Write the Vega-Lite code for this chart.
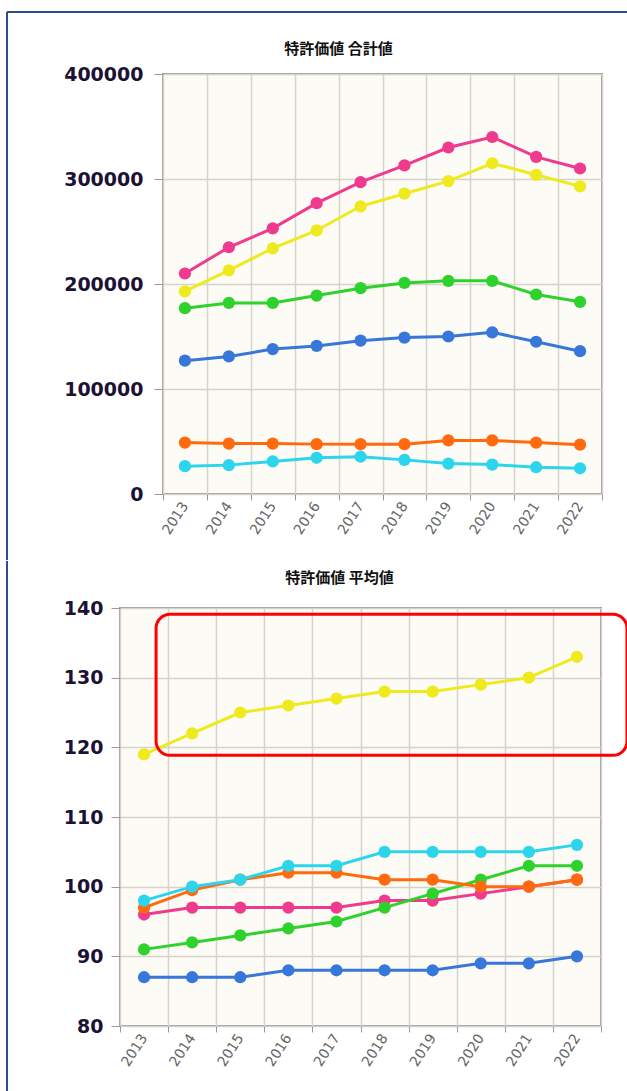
{
  "$schema": "https://vega.github.io/schema/vega-lite/v6.json",
  "padding": {"left": 6, "top": 11, "right": 0, "bottom": 0},
  "background": "white",
  "spacing": -2,
  "config": {
    "view": {"fill": "#fdfbf5", "stroke": "#9c9c9c", "strokeWidth": 2},
    "title": {"font": "Noto Sans CJK JP", "fontSize": 15, "fontWeight": "bold", "color": "#111111", "anchor": "middle"},
    "axis": {"labelFont": "DejaVu Sans", "gridColor": "#d6d3cc", "gridWidth": 1.5, "tickColor": "#999999", "domain": false, "title": null},
    "axisY": {"labelFontSize": 19, "labelFontWeight": "bold", "labelColor": "#1c1236", "tickSize": 9, "labelPadding": 11},
    "axisX": {"labelFontSize": 14, "labelColor": "#666666", "labelAngle": -57, "tickSize": 6, "labelPadding": 3, "grid": true, "tickBand": "extent"}
  },
  "datasets": {
    "total": [
      {"year": "2013", "s": "s1", "v": 210000}, {"year": "2014", "s": "s1", "v": 235000}, {"year": "2015", "s": "s1", "v": 253000}, {"year": "2016", "s": "s1", "v": 277000}, {"year": "2017", "s": "s1", "v": 297000}, {"year": "2018", "s": "s1", "v": 313000}, {"year": "2019", "s": "s1", "v": 330000}, {"year": "2020", "s": "s1", "v": 340000}, {"year": "2021", "s": "s1", "v": 321000}, {"year": "2022", "s": "s1", "v": 310000},
      {"year": "2013", "s": "s2", "v": 193000}, {"year": "2014", "s": "s2", "v": 213000}, {"year": "2015", "s": "s2", "v": 234000}, {"year": "2016", "s": "s2", "v": 251000}, {"year": "2017", "s": "s2", "v": 274000}, {"year": "2018", "s": "s2", "v": 286000}, {"year": "2019", "s": "s2", "v": 298000}, {"year": "2020", "s": "s2", "v": 315000}, {"year": "2021", "s": "s2", "v": 304000}, {"year": "2022", "s": "s2", "v": 293000},
      {"year": "2013", "s": "s3", "v": 177000}, {"year": "2014", "s": "s3", "v": 182000}, {"year": "2015", "s": "s3", "v": 182000}, {"year": "2016", "s": "s3", "v": 189000}, {"year": "2017", "s": "s3", "v": 196000}, {"year": "2018", "s": "s3", "v": 201000}, {"year": "2019", "s": "s3", "v": 203000}, {"year": "2020", "s": "s3", "v": 203000}, {"year": "2021", "s": "s3", "v": 190000}, {"year": "2022", "s": "s3", "v": 183000},
      {"year": "2013", "s": "s4", "v": 127000}, {"year": "2014", "s": "s4", "v": 131000}, {"year": "2015", "s": "s4", "v": 138000}, {"year": "2016", "s": "s4", "v": 141000}, {"year": "2017", "s": "s4", "v": 146000}, {"year": "2018", "s": "s4", "v": 149000}, {"year": "2019", "s": "s4", "v": 150000}, {"year": "2020", "s": "s4", "v": 154000}, {"year": "2021", "s": "s4", "v": 145000}, {"year": "2022", "s": "s4", "v": 136000},
      {"year": "2013", "s": "s5", "v": 49000}, {"year": "2014", "s": "s5", "v": 48000}, {"year": "2015", "s": "s5", "v": 48000}, {"year": "2016", "s": "s5", "v": 47500}, {"year": "2017", "s": "s5", "v": 47500}, {"year": "2018", "s": "s5", "v": 47500}, {"year": "2019", "s": "s5", "v": 51000}, {"year": "2020", "s": "s5", "v": 51000}, {"year": "2021", "s": "s5", "v": 49000}, {"year": "2022", "s": "s5", "v": 47000},
      {"year": "2013", "s": "s6", "v": 26500}, {"year": "2014", "s": "s6", "v": 27500}, {"year": "2015", "s": "s6", "v": 31000}, {"year": "2016", "s": "s6", "v": 34500}, {"year": "2017", "s": "s6", "v": 35500}, {"year": "2018", "s": "s6", "v": 32500}, {"year": "2019", "s": "s6", "v": 29000}, {"year": "2020", "s": "s6", "v": 28000}, {"year": "2021", "s": "s6", "v": 25500}, {"year": "2022", "s": "s6", "v": 24500}
    ],
    "avg": [
      {"year": "2013", "s": "s1", "v": 96}, {"year": "2014", "s": "s1", "v": 97}, {"year": "2015", "s": "s1", "v": 97}, {"year": "2016", "s": "s1", "v": 97}, {"year": "2017", "s": "s1", "v": 97}, {"year": "2018", "s": "s1", "v": 98}, {"year": "2019", "s": "s1", "v": 98}, {"year": "2020", "s": "s1", "v": 99}, {"year": "2021", "s": "s1", "v": 100}, {"year": "2022", "s": "s1", "v": 101},
      {"year": "2013", "s": "s2", "v": 119}, {"year": "2014", "s": "s2", "v": 122}, {"year": "2015", "s": "s2", "v": 125}, {"year": "2016", "s": "s2", "v": 126}, {"year": "2017", "s": "s2", "v": 127}, {"year": "2018", "s": "s2", "v": 128}, {"year": "2019", "s": "s2", "v": 128}, {"year": "2020", "s": "s2", "v": 129}, {"year": "2021", "s": "s2", "v": 130}, {"year": "2022", "s": "s2", "v": 133},
      {"year": "2013", "s": "s3", "v": 91}, {"year": "2014", "s": "s3", "v": 92}, {"year": "2015", "s": "s3", "v": 93}, {"year": "2016", "s": "s3", "v": 94}, {"year": "2017", "s": "s3", "v": 95}, {"year": "2018", "s": "s3", "v": 97}, {"year": "2019", "s": "s3", "v": 99}, {"year": "2020", "s": "s3", "v": 101}, {"year": "2021", "s": "s3", "v": 103}, {"year": "2022", "s": "s3", "v": 103},
      {"year": "2013", "s": "s4", "v": 87}, {"year": "2014", "s": "s4", "v": 87}, {"year": "2015", "s": "s4", "v": 87}, {"year": "2016", "s": "s4", "v": 88}, {"year": "2017", "s": "s4", "v": 88}, {"year": "2018", "s": "s4", "v": 88}, {"year": "2019", "s": "s4", "v": 88}, {"year": "2020", "s": "s4", "v": 89}, {"year": "2021", "s": "s4", "v": 89}, {"year": "2022", "s": "s4", "v": 90},
      {"year": "2013", "s": "s5", "v": 97}, {"year": "2014", "s": "s5", "v": 99.5}, {"year": "2015", "s": "s5", "v": 101}, {"year": "2016", "s": "s5", "v": 102}, {"year": "2017", "s": "s5", "v": 102}, {"year": "2018", "s": "s5", "v": 101}, {"year": "2019", "s": "s5", "v": 101}, {"year": "2020", "s": "s5", "v": 100}, {"year": "2021", "s": "s5", "v": 100}, {"year": "2022", "s": "s5", "v": 101},
      {"year": "2013", "s": "s6", "v": 98}, {"year": "2014", "s": "s6", "v": 100}, {"year": "2015", "s": "s6", "v": 101}, {"year": "2016", "s": "s6", "v": 103}, {"year": "2017", "s": "s6", "v": 103}, {"year": "2018", "s": "s6", "v": 105}, {"year": "2019", "s": "s6", "v": 105}, {"year": "2020", "s": "s6", "v": 105}, {"year": "2021", "s": "s6", "v": 105}, {"year": "2022", "s": "s6", "v": 106}
    ]
  },
  "vconcat": [
    {
      "width": 620,
      "height": 1,
      "view": {"stroke": null, "fill": null},
      "data": {"values": [{}]},
      "mark": {"type": "rule", "color": "#2f4d8a", "strokeWidth": 2},
      "encoding": {
        "x": {"datum": 0, "type": "quantitative", "scale": {"domain": [0, 1], "nice": false}, "axis": null},
        "x2": {"datum": 1},
        "y": {"datum": 0, "type": "quantitative", "scale": {"domain": [0, 1], "nice": false}, "axis": null}
      }
    },
    {
      "spacing": 54,
      "hconcat": [
        {
          "width": 1,
          "height": 420,
          "view": {"stroke": null, "fill": null},
          "data": {"values": [{}]},
          "mark": {"type": "rule", "color": "#2f4d8a", "strokeWidth": 2},
          "encoding": {
            "x": {"datum": 0, "type": "quantitative", "scale": {"domain": [0, 1], "nice": false}, "axis": null},
            "y": {"datum": 482, "type": "quantitative", "scale": {"domain": [0, 420], "nice": false}, "axis": null},
            "y2": {"datum": -66}
          }
        },
        {
          "width": 439,
          "height": 420,
          "title": {"text": "特許価値 合計値", "dx": -44, "offset": 8},
          "data": {"name": "total"},
          "mark": {"type": "line", "strokeWidth": 3, "point": {"filled": true, "size": 150, "opacity": 1}},
          "encoding": {
            "x": {"field": "year", "type": "ordinal", "bandPosition": 0.5, "scale": {"type": "band", "paddingInner": 0, "paddingOuter": 0}},
            "y": {"field": "v", "type": "quantitative", "scale": {"domain": [0, 400000], "nice": false}, "axis": {"values": [0, 100000, 200000, 300000, 400000], "format": "d"}},
            "color": {"field": "s", "type": "nominal", "scale": {"domain": ["s1", "s2", "s3", "s4", "s5", "s6"], "range": ["#f03a8e", "#efea1e", "#2fd12c", "#3777d9", "#ff6a0e", "#2cd5ec"]}, "legend": null}
          }
        }
      ]
    },
    {
      "spacing": 54,
      "hconcat": [
        {
          "width": 1,
          "height": 418,
          "view": {"stroke": null, "fill": null},
          "data": {"values": [{}]},
          "mark": {"type": "rule", "color": "#2f4d8a", "strokeWidth": 2},
          "encoding": {
            "x": {"datum": 0, "type": "quantitative", "scale": {"domain": [0, 1], "nice": false}, "axis": null},
            "y": {"datum": 465, "type": "quantitative", "scale": {"domain": [0, 418], "nice": false}, "axis": null},
            "y2": {"datum": -100}
          }
        },
        {
          "width": 481,
          "height": 418,
          "title": {"text": "特許価値 平均値", "dx": -21, "offset": 13},
          "layer": [
            {
              "data": {"name": "avg"},
              "mark": {"type": "line", "strokeWidth": 3, "point": {"filled": true, "size": 150, "opacity": 1}},
              "encoding": {
                "x": {"field": "year", "type": "ordinal", "bandPosition": 0.5, "scale": {"type": "band", "paddingInner": 0, "paddingOuter": 0}},
                "y": {"field": "v", "type": "quantitative", "scale": {"domain": [80, 140], "nice": false, "zero": false}, "axis": {"values": [80, 90, 100, 110, 120, 130, 140], "labelPadding": 8}},
                "color": {"field": "s", "type": "nominal", "scale": {"domain": ["s1", "s2", "s3", "s4", "s5", "s6"], "range": ["#f03a8e", "#efea1e", "#2fd12c", "#3777d9", "#ff6a0e", "#2cd5ec"]}, "legend": null}
              }
            },
            {
              "data": {"values": [{}]},
              "mark": {"type": "rect", "fillOpacity": 0, "stroke": "#ff0000", "strokeWidth": 3, "cornerRadius": 14},
              "encoding": {
                "x": {"datum": "2013", "type": "ordinal", "bandPosition": 0.75},
                "x2": {"datum": "2022", "bandPosition": 1.54},
                "y": {"datum": 139.1, "type": "quantitative"},
                "y2": {"datum": 118.85}
              }
            }
          ]
        }
      ]
    }
  ]
}
